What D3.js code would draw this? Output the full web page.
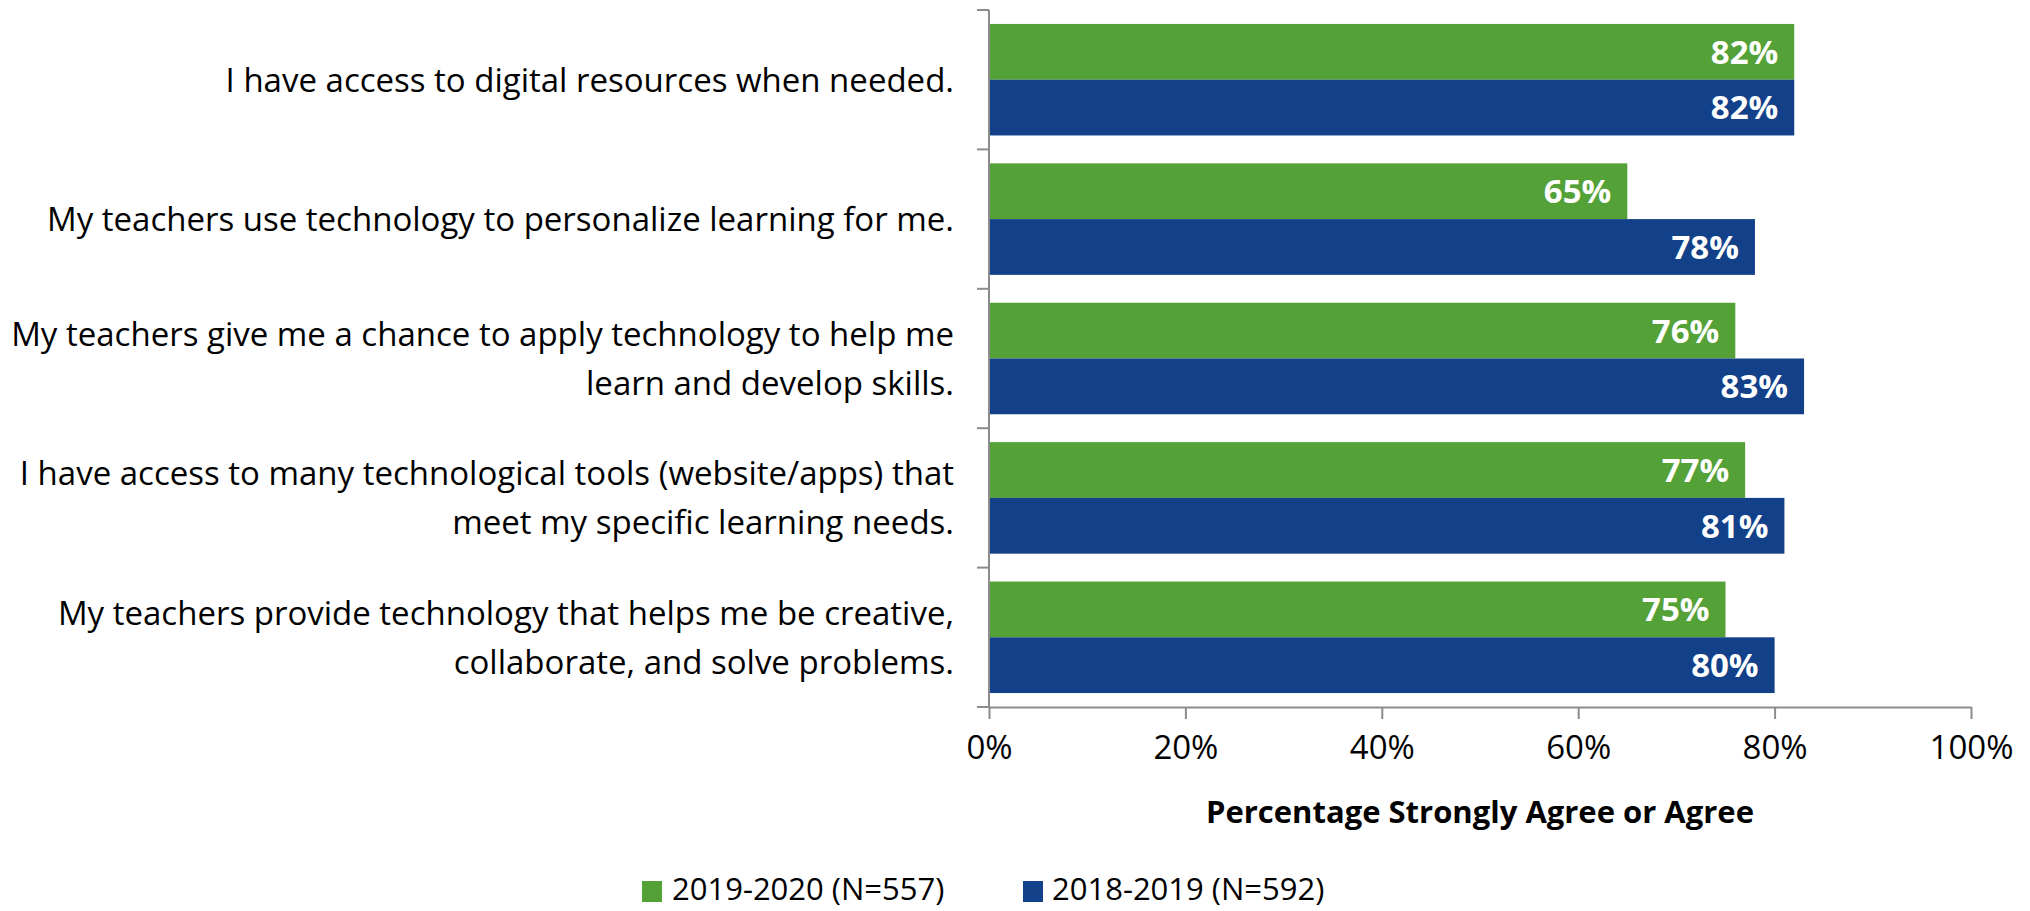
<!DOCTYPE html>
<html>
<head>
<meta charset="utf-8">
<script src="https://cdn.jsdelivr.net/npm/d3@7"></script>
<style>
  html, body { margin: 0; padding: 0; background: #fff; }
  svg { display: block; font-family: "Open Sans", "Noto Sans", sans-serif; }
</style>
</head>
<body>
<svg id="chart" width="2030" height="911"></svg>
<script>
const categories = [
  "I have access to digital resources when needed.",
  "My teachers use technology to personalize learning for me.",
  "My teachers give me a chance to apply technology to help me\nlearn and develop skills.",
  "I have access to many technological tools (website/apps) that\nmeet my specific learning needs.",
  "My teachers provide technology that helps me be creative,\ncollaborate, and solve problems."
];
const seriesNames = ["2019-2020 (N=557)", "2018-2019 (N=592)"];
const values2019_2020 = [82, 65, 76, 77, 75];
const values2018_2019 = [82, 78, 83, 81, 80];
const xTicks = [0, 20, 40, 60, 80, 100];
const xTitle = "Percentage Strongly Agree or Agree";
const colors = ["#54A138", "#124189"];

const seriesValues = [values2019_2020, values2018_2019];
const svg = d3.select("#chart");

const mLeft = 989, mRight = 1971, mTop = 10, mBottom = 707;

const x = d3.scaleLinear().domain([0, 100]).range([mLeft, mRight]);
const y = d3.scaleBand().domain(categories).range([mTop, mBottom]).paddingInner(0.2).paddingOuter(0.1);
const ySub = d3.scaleBand().domain(d3.range(seriesNames.length)).range([0, y.bandwidth()]);

const axisColor = "#8c8c8c";

// bars
categories.forEach((c, ci) => {
  seriesValues.forEach((vals, si) => {
    const v = vals[ci];
    svg.append("rect")
      .attr("x", x(0))
      .attr("y", y(c) + ySub(si))
      .attr("width", x(v) - x(0))
      .attr("height", ySub.bandwidth())
      .attr("fill", colors[si]);
    svg.append("text")
      .attr("x", x(v) - 16)
      .attr("y", y(c) + ySub(si) + ySub.bandwidth() / 2)
      .attr("dy", "0.36em")
      .attr("text-anchor", "end")
      .attr("fill", "#fff")
      .attr("font-weight", "bold")
      .attr("font-size", 33)
      .text(v + "%");
  });
});

// y axis line and ticks at band boundaries
const step = y.step();
const boundaries = categories.map(c => y(c) - step * y.paddingInner() / 2);
boundaries.push(mBottom);
svg.append("line").attr("x1", mLeft).attr("x2", mLeft).attr("y1", mTop).attr("y2", mBottom)
  .attr("stroke", axisColor).attr("stroke-width", 2);
boundaries.forEach(b => {
  svg.append("line").attr("x1", mLeft - 12).attr("x2", mLeft).attr("y1", b).attr("y2", b)
    .attr("stroke", axisColor).attr("stroke-width", 2);
});

// x axis
const xAxis = d3.axisBottom(x).tickValues(xTicks).tickFormat(d => d + "%").tickSize(12).tickPadding(17).tickSizeOuter(0);
const gx = svg.append("g").attr("transform", `translate(0,${mBottom})`).call(xAxis);
gx.select(".domain").attr("stroke", axisColor).attr("stroke-width", 2);
gx.selectAll(".tick line").attr("stroke", axisColor).attr("stroke-width", 2);
gx.selectAll(".tick text").attr("fill", "#000").attr("font-size", 33).attr("font-family", "'Open Sans', sans-serif");

// x title
svg.append("text")
  .attr("x", (mLeft + mRight) / 2)
  .attr("y", 812)
  .attr("dy", "0.36em")
  .attr("text-anchor", "middle")
  .attr("font-weight", "bold")
  .attr("font-size", 31)
  .text(xTitle);

// category labels
const lineH = 49;
categories.forEach(c => {
  const lines = c.split("\n");
  const cy = y(c) + y.bandwidth() / 2;
  const t = svg.append("text")
    .attr("text-anchor", "end")
    .attr("font-size", 33)
    .attr("fill", "#000");
  lines.forEach((ln, i) => {
    t.append("tspan")
      .attr("x", 954)
      .attr("y", cy + (i - (lines.length - 1) / 2) * lineH)
      .attr("dy", "0.36em")
      .text(ln);
  });
});

// legend
const legendItems = [{x: 642, tx: 672}, {x: 1023, tx: 1052}];
seriesNames.forEach((n, i) => {
  svg.append("rect")
    .attr("x", legendItems[i].x).attr("y", 881)
    .attr("width", 20).attr("height", 21)
    .attr("fill", colors[i]);
  svg.append("text")
    .attr("x", legendItems[i].tx).attr("y", 889)
    .attr("dy", "0.36em")
    .attr("font-size", 31)
    .text(n);
});
</script>
</body>
</html>
